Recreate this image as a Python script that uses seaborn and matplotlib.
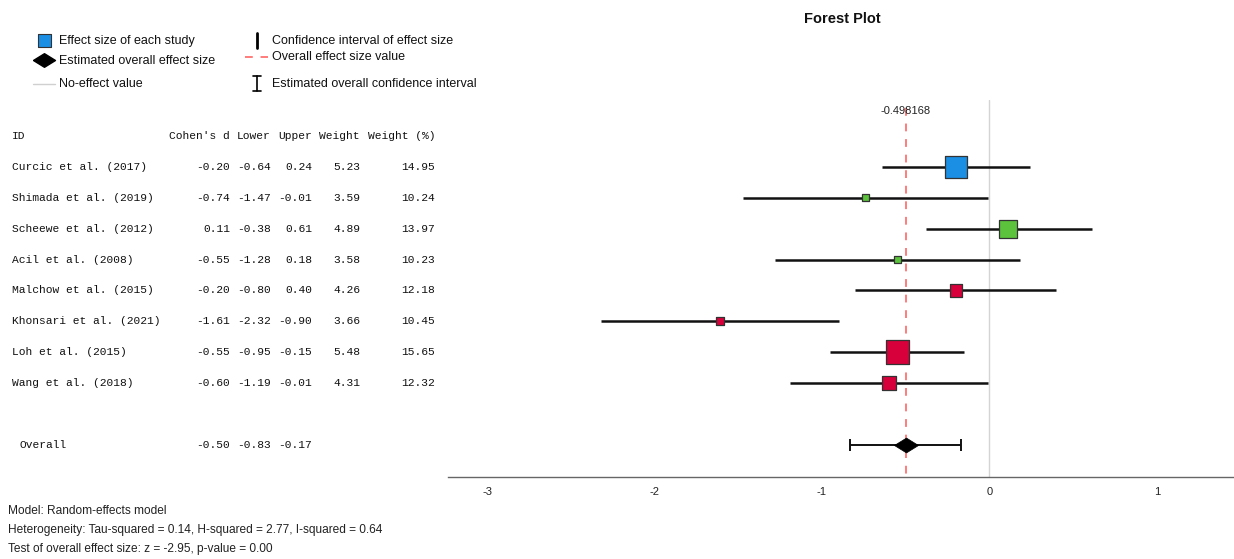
import numpy as np
import pandas as pd
import matplotlib
matplotlib.use("Agg")
import matplotlib.pyplot as plt
import matplotlib.transforms as mtransforms
import seaborn as sns

# ---------------- data ----------------
study_ids = ["Curcic et al. (2017)", "Shimada et al. (2019)", "Scheewe et al. (2012)",
             "Acil et al. (2008)", "Malchow et al. (2015)", "Khonsari et al. (2021)",
             "Loh et al. (2015)", "Wang et al. (2018)"]
cohens_d = [-0.20, -0.74, 0.11, -0.55, -0.20, -1.61, -0.55, -0.60]
lower = [-0.64, -1.47, -0.38, -1.28, -0.80, -2.32, -0.95, -1.19]
upper = [0.24, -0.01, 0.61, 0.18, 0.40, -0.90, -0.15, -0.01]
weight = [5.23, 3.59, 4.89, 3.58, 4.26, 3.66, 5.48, 4.31]
weight_pct = [14.95, 10.24, 13.97, 10.23, 12.18, 10.45, 15.65, 12.32]
group = ["A", "B", "B", "B", "C", "C", "C", "C"]
overall_d = -0.498168
overall_lower = -0.83
overall_upper = -0.17
header = ["ID", "Cohen's d", "Lower", "Upper", "Weight", "Weight (%)"]
xticks = [-3, -2, -1, 0, 1]
footnotes = ["Model: Random-effects model",
             "Heterogeneity: Tau-squared = 0.14, H-squared = 2.77, I-squared = 0.64",
             "Test of overall effect size: z = -2.95, p-value = 0.00"]

palette = {"A": "#1a8fe3", "B": "#5cc43c", "C": "#d8003a"}

df = pd.DataFrame({"id": study_ids, "d": cohens_d, "lo": lower, "hi": upper,
                   "w": weight, "wp": weight_pct, "group": group})
df["row"] = np.arange(len(df))
overall_row = len(df) + 1

# ---------------- figure ----------------
sns.set_theme(style="white")
plt.rcParams["font.family"] = ["Liberation Sans", "DejaVu Sans"]

W, H = 1234, 559
fig = plt.figure(figsize=(W / 100, H / 100), dpi=100)
ax = fig.add_axes([448 / W, 1 - 477 / H, (1234 - 448) / W, (477 - 100) / H])

# marker widths (px) mapped linearly from weight %
wmin, wmax = min(weight_pct), max(weight_pct)
px = {v: 7 + (v - wmin) / (wmax - wmin) * 16.5 for v in weight_pct}
sizes = {v: (p * 0.72) ** 2 for v, p in px.items()}

# zero line
ax.axvline(0, color="#d4d4d4", lw=1, zorder=1)
# overall dashed line
ax.vlines(overall_d, -1.9, 10.1, colors="#ff7b7b", linestyles=(0, (4, 4)), lw=1.4, zorder=1)

# CI lines
ax.hlines(df["row"], df["lo"], df["hi"], colors="#111111", lw=1.8, zorder=2)

sns.scatterplot(data=df, x="d", y="row", hue="group", palette=palette,
                size="wp", sizes=sizes, marker="s", edgecolor="#333333",
                linewidth=0.9, legend=False, ax=ax, zorder=3)

# overall
ax.errorbar([overall_d], [overall_row],
            xerr=[[overall_d - overall_lower], [overall_upper - overall_d]],
            fmt="none", ecolor="#111111", elinewidth=1.4, capsize=4, capthick=1.4, zorder=2)
diamond = [(-1, 0), (0, 0.62), (1, 0), (0, -0.62), (-1, 0)]
sns.scatterplot(x=[overall_d], y=[overall_row], marker=diamond, s=(24 * 0.72) ** 2,
                color="black", edgecolor="black", linewidth=0.5, ax=ax, zorder=4, legend=False)

ax.text(overall_d, -1.82, f"{overall_d:.6f}".rstrip("0"), ha="center", va="center",
        fontsize=8, color="#222222")

ax.set_xlim(-3.233, 1.46)
ax.set_ylim(10.05, -2.175)
ax.set_xticks(xticks)
ax.set_xticklabels([str(t) for t in xticks])
ax.set_yticks([])
ax.set_xlabel("")
ax.set_ylabel("")
ax.tick_params(axis="x", length=0, pad=7, labelsize=8, colors="#222222")
for s in ["top", "right", "left"]:
    ax.spines[s].set_visible(False)
ax.spines["bottom"].set_color("#666666")
ax.spines["bottom"].set_linewidth(1)

# ---------------- table ----------------
tr = mtransforms.blended_transform_factory(fig.transFigure, ax.transData)
mono = dict(family=["Liberation Mono", "DejaVu Sans Mono"], fontsize=8.1, color="#111111")
col_right = [230, 271, 312, 360, 435]
ax.text(12 / W, -1, header[0], transform=tr, ha="left", va="center", clip_on=False, **mono)
for c, h in enumerate(header[1:]):
    ax.text(col_right[c] / W, -1, h, transform=tr, ha="right", va="center", clip_on=False, **mono)
for _, r in df.iterrows():
    ax.text(12 / W, r["row"], r["id"], transform=tr, ha="left", va="center", clip_on=False, **mono)
    vals = [r["d"], r["lo"], r["hi"], r["w"], r["wp"]]
    for c, v in enumerate(vals):
        ax.text(col_right[c] / W, r["row"], f"{v:.2f}", transform=tr, ha="right",
                va="center", clip_on=False, **mono)
ax.text(20 / W, overall_row, "Overall", transform=tr, ha="left", va="center", clip_on=False, **mono)
for c, v in enumerate([overall_d, overall_lower, overall_upper]):
    ax.text(col_right[c] / W, overall_row, f"{v:.2f}", transform=tr, ha="right",
            va="center", clip_on=False, **mono)

# ---------------- overlay (legend, title, notes) ----------------
ov = fig.add_axes([0, 0, 1, 1], zorder=-1)
ov.set_xlim(0, W)
ov.set_ylim(H, 0)
ov.axis("off")
ov.patch.set_alpha(0)

lf = dict(fontsize=9, color="#111111", va="center", ha="left")
ov.scatter([44], [40], marker="s", s=(13 * 0.72) ** 2, color=palette["A"], edgecolor="#333333", lw=0.8)
ov.text(59, 41, "Effect size of each study", **lf)
ov.scatter([44], [60], marker=diamond, s=(22 * 0.72) ** 2, color="black")
ov.text(59, 61, "Estimated overall effect size", **lf)
ov.plot([33, 55], [84, 84], color="#d0d0d0", lw=1)
ov.text(59, 84, "No-effect value", **lf)
ov.plot([257, 257], [33, 48], color="black", lw=2)
ov.text(272, 41, "Confidence interval of effect size", **lf)
ov.plot([245, 268], [57, 57], color="#ff7b7b", lw=1.4, linestyle=(0, (4, 4)))
ov.text(272, 57, "Overall effect size value", **lf)
ov.plot([257, 257], [76, 91], color="black", lw=1.2)
ov.plot([253, 261], [76, 76], color="black", lw=1.2)
ov.plot([253, 261], [91, 91], color="black", lw=1.2)
ov.text(272, 84, "Estimated overall confidence interval", **lf)

ov.text(842, 19, "Forest Plot", fontsize=10.5, fontweight="bold", ha="center", va="center", color="#111111")
for i, t in enumerate(footnotes):
    ov.text(8, 511 + 19 * i, t, fontsize=8.6, ha="left", va="center", color="#222222")

fig.savefig("out.png", dpi=100)
